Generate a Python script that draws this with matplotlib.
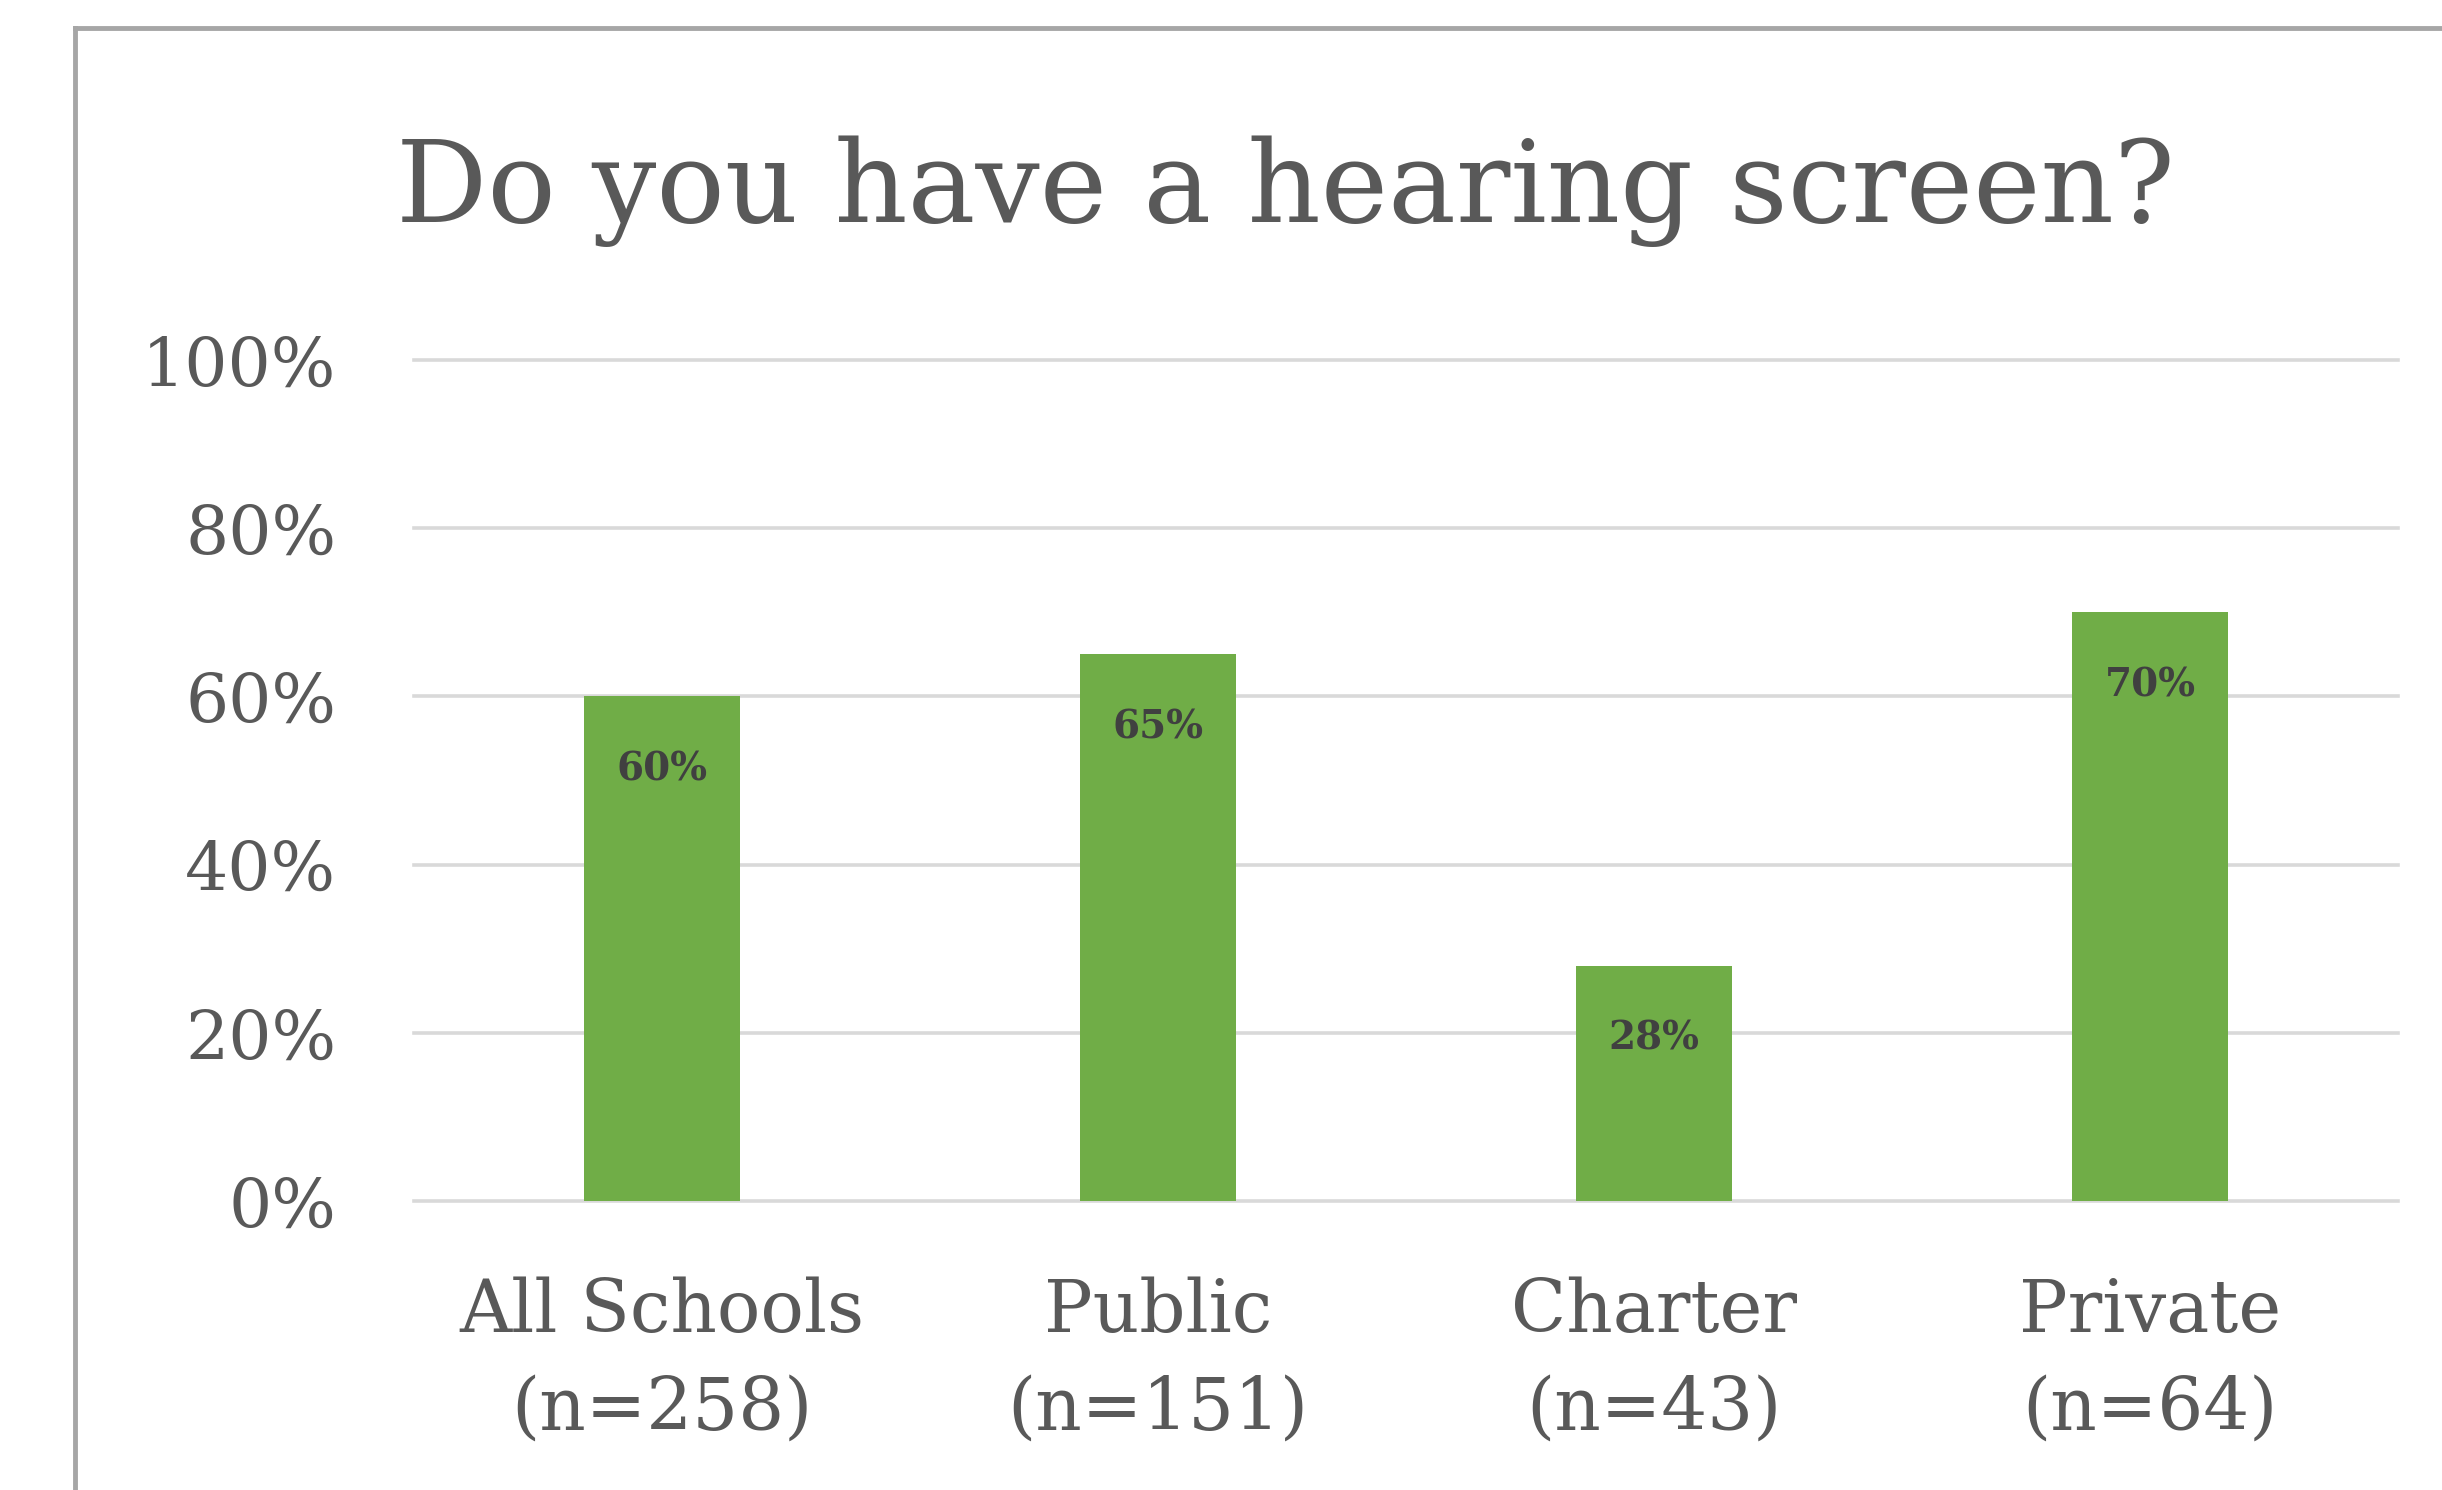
import matplotlib
matplotlib.use("Agg")
import matplotlib.pyplot as plt
from matplotlib.lines import Line2D

categories = ["All Schools\n(n=258)", "Public\n(n=151)", "Charter\n(n=43)", "Private\n(n=64)"]
values = [0.60, 0.65, 0.28, 0.70]
value_labels = ["60%", "65%", "28%", "70%"]
yticks = [0.0, 0.2, 0.4, 0.6, 0.8, 1.0]
ytick_labels = ["0%", "20%", "40%", "60%", "80%", "100%"]
title = "Do you have a hearing screen?"

plt.rcParams['font.family'] = ['DejaVu Serif']
TEXT = "#595959"
GREEN = "#70AD47"
GRID = "#D9D9D9"
FRAME = "#A6A6A6"

W, H = 2442, 1490
fig = plt.figure(figsize=(W / 100, H / 100), dpi=100)
ax = fig.add_axes([414 / W, 1 - 1201 / H, (2398 - 414) / W, (1201 - 360) / H])

x = list(range(len(categories)))
ax.bar(x, values, width=0.314, color=GREEN, zorder=3)
ax.set_xlim(-0.5, len(categories) - 0.5)
ax.set_ylim(0, 1.0)
ax.set_yticks(yticks)
ax.set_yticklabels(ytick_labels)
ax.set_xticks(x)
ax.set_xticklabels(categories, linespacing=1.5)
for yv in yticks:
    ax.axhline(yv, color=GRID, lw=2.6, zorder=1, clip_on=False)
for s in ax.spines.values():
    s.set_visible(False)
ax.tick_params(axis='both', length=0, colors=TEXT)
ax.tick_params(axis='y', labelsize=49, pad=56)
ax.tick_params(axis='x', labelsize=52, pad=54)

for xi, v, lab in zip(x, values, value_labels):
    ax.annotate(lab, (xi, v), xytext=(0, -39), textcoords='offset points',
                ha='center', va='top', fontsize=28, fontweight='bold', color="#404040", zorder=4)

fig.text(1285 / W, 1 - 222 / H, title, ha='center', va='baseline', fontsize=82, color=TEXT)

# outer frame (cropped)
fig.add_artist(Line2D([75 / W, 1.01], [1 - 28 / H, 1 - 28 / H], transform=fig.transFigure, color=FRAME, lw=3.5))
fig.add_artist(Line2D([75 / W, 75 / W], [1 - 28 / H, -0.01], transform=fig.transFigure, color=FRAME, lw=3.5))

fig.savefig("out.png", dpi=100, facecolor="white")
